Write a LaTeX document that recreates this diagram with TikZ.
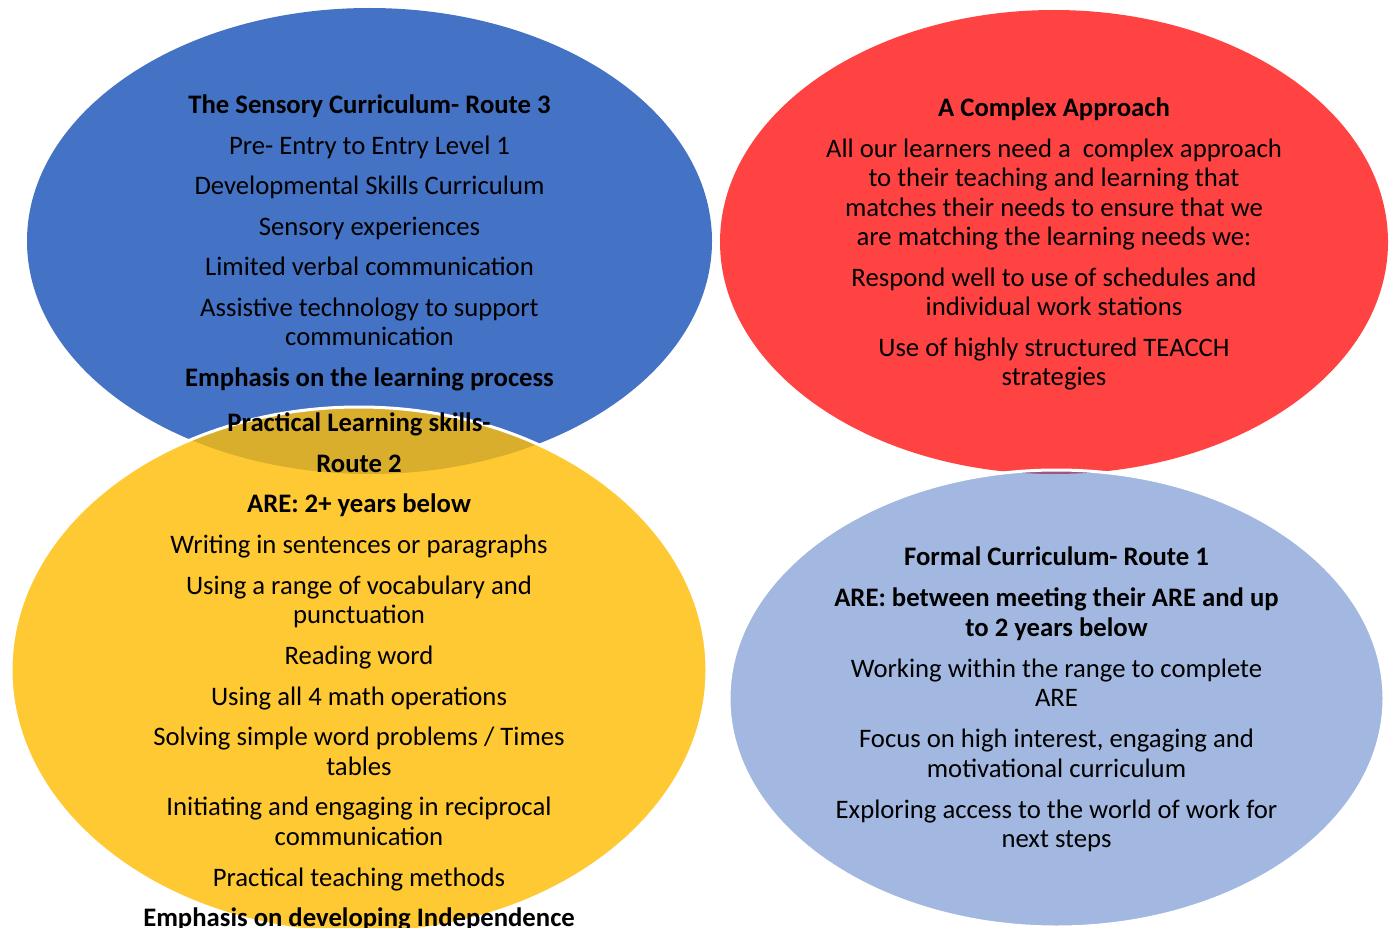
\documentclass[tikz,border=0pt]{standalone}
\usepackage{fontspec}
\setmainfont{Carlito}
\usetikzlibrary{positioning}

\definecolor{sensoryblue}{RGB}{68,114,196}
\definecolor{complexred}{RGB}{255,67,67}
\definecolor{practicalyellow}{RGB}{255,201,51}
\definecolor{formalblue}{RGB}{162,184,224}
\definecolor{overlapgold}{RGB}{217,174,44}
\definecolor{overlappurple}{RGB}{160,85,128}

\begin{document}
\begin{tikzpicture}[
    x=1pt, y=-1pt,
    edge/.style={draw=white, line width=3pt},
    info/.style={align=center, text=black, font=\fontsize{26.7}{29.5}\selectfont}
]
    \useasboundingbox (0,0) rectangle (1390,928);

    % Centres
    \coordinate (sensoryc) at (369.5,241);
    \coordinate (complexc) at (1054,242);
    \coordinate (practicalc) at (359,670);
    \coordinate (formalc) at (1056.5,698.5);

    % Ellipses
    \fill[sensoryblue] (sensoryc) ellipse [x radius=342.5, y radius=233];
    \fill[complexred] (complexc) ellipse [x radius=334, y radius=232];
    \fill[practicalyellow] (practicalc) ellipse [x radius=348, y radius=263];
    \fill[formalblue] (formalc) ellipse [x radius=327.5, y radius=228.5];

    % Overlaps
    \begin{scope}
        \clip (practicalc) ellipse [x radius=348, y radius=263];
        \fill[overlapgold] (sensoryc) ellipse [x radius=342.5, y radius=233];
    \end{scope}
    \begin{scope}
        \clip (formalc) ellipse [x radius=327.5, y radius=228.5];
        \fill[overlappurple] (complexc) ellipse [x radius=334, y radius=232];
    \end{scope}
    \draw[edge] (practicalc) ellipse [x radius=348, y radius=263];
    \draw[edge] (formalc) ellipse [x radius=327.5, y radius=228.5];

    % Texts
    \node[info] (sensory) at ([yshift=-2pt]sensoryc) {%
        \textbf{The Sensory Curriculum- Route 3}\\[11pt]
        Pre- Entry to Entry Level 1\\[11pt]
        Developmental Skills Curriculum\\[11pt]
        Sensory experiences\\[11pt]
        Limited verbal communication\\[11pt]
        Assistive technology to support\\
        communication\\[11pt]
        \textbf{Emphasis on the learning process}};
    \node[info] (complex) at ([yshift=-2pt]complexc) {%
        \textbf{A Complex Approach}\\[11pt]
        All our learners need a \ complex approach\\
        to their teaching and learning that\\
        matches their needs to ensure that we\\
        are matching the learning needs we:\\[11pt]
        Respond well to use of schedules and\\
        individual work stations\\[11pt]
        Use of highly structured TEACCH\\
        strategies};
    \node[info] (practical) at ([yshift=-2pt]practicalc) {%
        \textbf{Practical Learning skills-}\\[11.2pt]
        \textbf{Route 2}\\[11.2pt]
        \textbf{ARE: 2+ years below}\\[11.2pt]
        Writing in sentences or paragraphs\\[11.2pt]
        Using a range of vocabulary and\\
        punctuation\\[11.2pt]
        Reading word\\[11.2pt]
        Using all 4 math operations\\[11.2pt]
        Solving simple word problems / Times\\
        tables\\[11.2pt]
        Initiating and engaging in reciprocal\\
        communication\\[11.2pt]
        Practical teaching methods\\[11.2pt]
        \textbf{Emphasis on developing Independence}};
    \node[info] (formal) at ([yshift=-1pt]formalc) {%
        \textbf{Formal Curriculum- Route 1}\\[11.5pt]
        \textbf{ARE: between meeting their ARE and up}\\
        \textbf{to 2 years below}\\[11.5pt]
        Working within the range to complete\\
        ARE\\[11.5pt]
        Focus on high interest, engaging and\\
        motivational curriculum\\[11.5pt]
        Exploring access to the world of work for\\
        next steps};
\end{tikzpicture}
\end{document}
